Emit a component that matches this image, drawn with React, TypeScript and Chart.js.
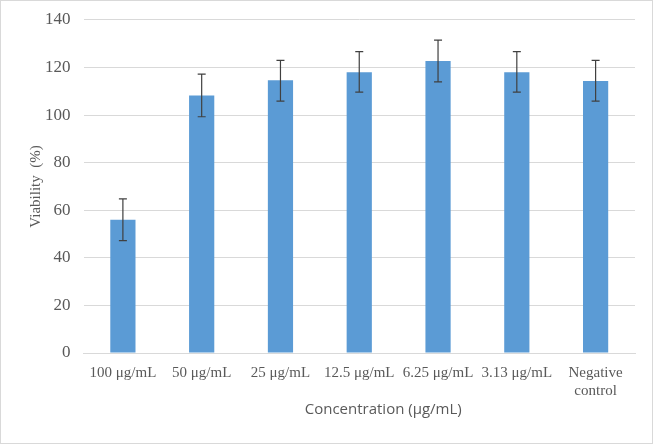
import React, { useEffect, useRef } from "react";
import { Chart, registerables } from "chart.js";

Chart.register(...registerables);

const categories: (string | string[])[] = [
  "100 μg/mL",
  "50 μg/mL",
  "25 μg/mL",
  "12.5 μg/mL",
  "6.25 μg/mL",
  "3.13 μg/mL",
  ["Negative", "control"],
];
const viability = [56, 108.2, 114.6, 118, 122.7, 118, 114.3];
const errorHigh = [64.8, 117.2, 123, 126.7, 131.5, 126.7, 123];
const errorLow = [47.2, 99.3, 105.9, 109.7, 114, 109.7, 105.9];
const yTicksMax = 140;
const yTickStep = 20;
const xTitle = "Concentration (μg/mL)";
const yTitle = "Viability  (%)";

const errorBarPlugin = {
  id: "errorBars",
  afterDatasetsDraw(chart: any) {
    const { ctx } = chart;
    const meta = chart.getDatasetMeta(0);
    const yScale = chart.scales.y;
    ctx.save();
    ctx.strokeStyle = "#404040";
    ctx.lineWidth = 1.2;
    meta.data.forEach((bar: any, i: number) => {
      const x = bar.x;
      const yH = yScale.getPixelForValue(errorHigh[i]);
      const yL = yScale.getPixelForValue(errorLow[i]);
      const cap = 4;
      ctx.beginPath();
      ctx.moveTo(x, yH);
      ctx.lineTo(x, yL);
      ctx.moveTo(x - cap, yH);
      ctx.lineTo(x + cap, yH);
      ctx.moveTo(x - cap, yL);
      ctx.lineTo(x + cap, yL);
      ctx.stroke();
    });
    ctx.restore();
  },
};

const xTitlePlugin = {
  id: "xTitle",
  afterDraw(chart: any) {
    const { ctx, chartArea } = chart;
    ctx.save();
    ctx.fillStyle = "#595959";
    ctx.font = "15px 'Open Sans'";
    ctx.textAlign = "center";
    ctx.textBaseline = "middle";
    const cx = (chartArea.left + chartArea.right) / 2 + 24;
    ctx.fillText(xTitle, cx, chartArea.bottom + 57);
    ctx.restore();
  },
};

export default function App() {
  const ref = useRef<HTMLCanvasElement>(null);
  useEffect(() => {
    document.body.style.margin = "0";
    const chart = new Chart(ref.current!, {
      type: "bar",
      data: {
        labels: categories,
        datasets: [
          {
            data: viability,
            backgroundColor: "#5b9bd5",
            borderColor: "#5b9bd5",
            borderWidth: 0,
            barPercentage: 0.32,
            categoryPercentage: 1,
          },
        ],
      },
      options: {
        animation: false,
        responsive: true,
        maintainAspectRatio: false,
        layout: { padding: { top: 2, right: 17, bottom: 32, left: 13 } },
        plugins: {
          legend: { display: false },
          tooltip: { enabled: false },
        },
        scales: {
          x: {
            grid: { display: false, drawTicks: false },
            border: { color: "#d9d9d9" },
            ticks: {
              color: "#595959",
              font: { family: "Liberation Serif", size: 15 },
              maxRotation: 0,
              autoSkip: false,
              padding: 11,
            },
          },
          y: {
            min: 0,
            max: yTicksMax,
            grid: { color: "#d9d9d9", drawTicks: false },
            border: { display: false },
            ticks: {
              stepSize: yTickStep,
              color: "#595959",
              font: { family: "Liberation Serif", size: 17, lineHeight: 0.7 },
              padding: 13,
            },
            title: {
              display: true,
              text: yTitle,
              color: "#595959",
              font: { family: "Liberation Serif", size: 15 },
              padding: { top: 13, bottom: -13 },
            },
          },
        },
      },
      plugins: [errorBarPlugin, xTitlePlugin],
    });
    return () => chart.destroy();
  }, []);
  return (
    <div
      style={{
        width: 653,
        height: 444,
        boxSizing: "border-box",
        border: "1px solid #d9d9d9",
        position: "relative",
      }}
    >
      <canvas ref={ref} />
    </div>
  );
}
